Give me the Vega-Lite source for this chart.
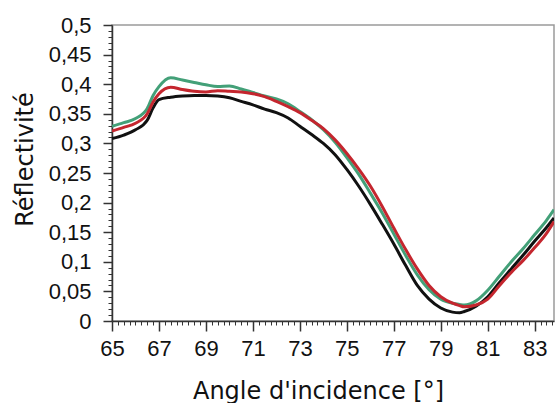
{
  "$schema": "https://vega.github.io/schema/vega-lite/v6.json",
  "width": 442,
  "height": 296,
  "autosize": {"type": "none"},
  "padding": {"left": 112, "top": 25, "right": 1, "bottom": 82},
  "background": "white",
  "config": {"view": {"stroke": "#9a9a9a", "strokeWidth": 1.5}},
  "data": {"values": [
    {"a": 65.0, "r": 0.329, "s": "vert"}, {"a": 65.5, "r": 0.335, "s": "vert"}, {"a": 66.0, "r": 0.342, "s": "vert"}, {"a": 66.5, "r": 0.359, "s": "vert"}, {"a": 66.75, "r": 0.381, "s": "vert"}, {"a": 67.0, "r": 0.396, "s": "vert"}, {"a": 67.5, "r": 0.411, "s": "vert"}, {"a": 68.0, "r": 0.407, "s": "vert"}, {"a": 68.5, "r": 0.403, "s": "vert"}, {"a": 69.0, "r": 0.399, "s": "vert"}, {"a": 69.5, "r": 0.396, "s": "vert"}, {"a": 70.0, "r": 0.397, "s": "vert"}, {"a": 70.5, "r": 0.392, "s": "vert"}, {"a": 71.0, "r": 0.386, "s": "vert"}, {"a": 71.5, "r": 0.380, "s": "vert"}, {"a": 72.0, "r": 0.375, "s": "vert"}, {"a": 72.5, "r": 0.367, "s": "vert"}, {"a": 73.0, "r": 0.354, "s": "vert"}, {"a": 73.5, "r": 0.340, "s": "vert"}, {"a": 74.0, "r": 0.323, "s": "vert"}, {"a": 74.5, "r": 0.302, "s": "vert"}, {"a": 75.0, "r": 0.276, "s": "vert"}, {"a": 75.5, "r": 0.248, "s": "vert"}, {"a": 76.0, "r": 0.216, "s": "vert"}, {"a": 76.5, "r": 0.183, "s": "vert"}, {"a": 77.0, "r": 0.147, "s": "vert"}, {"a": 77.5, "r": 0.111, "s": "vert"}, {"a": 78.0, "r": 0.078, "s": "vert"}, {"a": 78.5, "r": 0.053, "s": "vert"}, {"a": 79.0, "r": 0.037, "s": "vert"}, {"a": 79.5, "r": 0.030, "s": "vert"}, {"a": 79.8, "r": 0.028, "s": "vert"}, {"a": 80.0, "r": 0.027, "s": "vert"}, {"a": 80.5, "r": 0.034, "s": "vert"}, {"a": 81.0, "r": 0.052, "s": "vert"}, {"a": 81.5, "r": 0.076, "s": "vert"}, {"a": 82.0, "r": 0.100, "s": "vert"}, {"a": 82.5, "r": 0.122, "s": "vert"}, {"a": 83.0, "r": 0.146, "s": "vert"}, {"a": 83.5, "r": 0.170, "s": "vert"}, {"a": 83.82, "r": 0.188, "s": "vert"},
    {"a": 65.0, "r": 0.308, "s": "noir"}, {"a": 65.5, "r": 0.314, "s": "noir"}, {"a": 66.0, "r": 0.323, "s": "noir"}, {"a": 66.5, "r": 0.339, "s": "noir"}, {"a": 66.75, "r": 0.360, "s": "noir"}, {"a": 67.0, "r": 0.374, "s": "noir"}, {"a": 67.5, "r": 0.378, "s": "noir"}, {"a": 68.0, "r": 0.380, "s": "noir"}, {"a": 68.5, "r": 0.381, "s": "noir"}, {"a": 69.0, "r": 0.381, "s": "noir"}, {"a": 69.5, "r": 0.380, "s": "noir"}, {"a": 70.0, "r": 0.377, "s": "noir"}, {"a": 70.5, "r": 0.371, "s": "noir"}, {"a": 71.0, "r": 0.365, "s": "noir"}, {"a": 71.5, "r": 0.358, "s": "noir"}, {"a": 72.0, "r": 0.352, "s": "noir"}, {"a": 72.5, "r": 0.343, "s": "noir"}, {"a": 73.0, "r": 0.329, "s": "noir"}, {"a": 73.5, "r": 0.315, "s": "noir"}, {"a": 74.0, "r": 0.300, "s": "noir"}, {"a": 74.5, "r": 0.281, "s": "noir"}, {"a": 75.0, "r": 0.256, "s": "noir"}, {"a": 75.5, "r": 0.228, "s": "noir"}, {"a": 76.0, "r": 0.197, "s": "noir"}, {"a": 76.5, "r": 0.164, "s": "noir"}, {"a": 77.0, "r": 0.130, "s": "noir"}, {"a": 77.5, "r": 0.094, "s": "noir"}, {"a": 78.0, "r": 0.060, "s": "noir"}, {"a": 78.5, "r": 0.037, "s": "noir"}, {"a": 79.0, "r": 0.022, "s": "noir"}, {"a": 79.5, "r": 0.015, "s": "noir"}, {"a": 79.8, "r": 0.014, "s": "noir"}, {"a": 80.0, "r": 0.016, "s": "noir"}, {"a": 80.5, "r": 0.025, "s": "noir"}, {"a": 81.0, "r": 0.041, "s": "noir"}, {"a": 81.5, "r": 0.065, "s": "noir"}, {"a": 82.0, "r": 0.088, "s": "noir"}, {"a": 82.5, "r": 0.111, "s": "noir"}, {"a": 83.0, "r": 0.135, "s": "noir"}, {"a": 83.5, "r": 0.158, "s": "noir"}, {"a": 83.82, "r": 0.174, "s": "noir"},
    {"a": 65.0, "r": 0.321, "s": "rouge"}, {"a": 65.5, "r": 0.327, "s": "rouge"}, {"a": 66.0, "r": 0.334, "s": "rouge"}, {"a": 66.5, "r": 0.350, "s": "rouge"}, {"a": 66.75, "r": 0.370, "s": "rouge"}, {"a": 67.0, "r": 0.384, "s": "rouge"}, {"a": 67.5, "r": 0.395, "s": "rouge"}, {"a": 68.0, "r": 0.391, "s": "rouge"}, {"a": 68.5, "r": 0.388, "s": "rouge"}, {"a": 69.0, "r": 0.387, "s": "rouge"}, {"a": 69.5, "r": 0.389, "s": "rouge"}, {"a": 70.0, "r": 0.388, "s": "rouge"}, {"a": 70.5, "r": 0.387, "s": "rouge"}, {"a": 71.0, "r": 0.384, "s": "rouge"}, {"a": 71.5, "r": 0.379, "s": "rouge"}, {"a": 72.0, "r": 0.371, "s": "rouge"}, {"a": 72.5, "r": 0.362, "s": "rouge"}, {"a": 73.0, "r": 0.352, "s": "rouge"}, {"a": 73.5, "r": 0.339, "s": "rouge"}, {"a": 74.0, "r": 0.325, "s": "rouge"}, {"a": 74.5, "r": 0.306, "s": "rouge"}, {"a": 75.0, "r": 0.283, "s": "rouge"}, {"a": 75.5, "r": 0.257, "s": "rouge"}, {"a": 76.0, "r": 0.228, "s": "rouge"}, {"a": 76.5, "r": 0.194, "s": "rouge"}, {"a": 77.0, "r": 0.157, "s": "rouge"}, {"a": 77.5, "r": 0.121, "s": "rouge"}, {"a": 78.0, "r": 0.088, "s": "rouge"}, {"a": 78.5, "r": 0.060, "s": "rouge"}, {"a": 79.0, "r": 0.041, "s": "rouge"}, {"a": 79.5, "r": 0.030, "s": "rouge"}, {"a": 79.8, "r": 0.026, "s": "rouge"}, {"a": 80.0, "r": 0.024, "s": "rouge"}, {"a": 80.5, "r": 0.027, "s": "rouge"}, {"a": 81.0, "r": 0.037, "s": "rouge"}, {"a": 81.5, "r": 0.060, "s": "rouge"}, {"a": 82.0, "r": 0.082, "s": "rouge"}, {"a": 82.5, "r": 0.102, "s": "rouge"}, {"a": 83.0, "r": 0.124, "s": "rouge"}, {"a": 83.5, "r": 0.148, "s": "rouge"}, {"a": 83.82, "r": 0.168, "s": "rouge"}
  ]},
  "mark": {"type": "line", "strokeWidth": 3, "interpolate": "monotone", "clip": true},
  "encoding": {
    "x": {"field": "a", "type": "quantitative",
      "scale": {"domain": [65, 83.82], "nice": false, "zero": false},
      "axis": {"orient": "bottom",
        "values": [65, 65.25, 65.5, 65.75, 66, 66.25, 66.5, 66.75, 67, 67.25, 67.5, 67.75, 68, 68.25, 68.5, 68.75, 69, 69.25, 69.5, 69.75, 70, 70.25, 70.5, 70.75, 71, 71.25, 71.5, 71.75, 72, 72.25, 72.5, 72.75, 73, 73.25, 73.5, 73.75, 74, 74.25, 74.5, 74.75, 75, 75.25, 75.5, 75.75, 76, 76.25, 76.5, 76.75, 77, 77.25, 77.5, 77.75, 78, 78.25, 78.5, 78.75, 79, 79.25, 79.5, 79.75, 80, 80.25, 80.5, 80.75, 81, 81.25, 81.5, 81.75, 82, 82.25, 82.5, 82.75, 83, 83.25, 83.5, 83.75],
        "grid": false, "tickSize": 10, "tickColor": "#333",
        "tickWidth": {"condition": {"test": "abs(datum.value % 2 - 1) < 0.01", "value": 1.5}, "value": 1},
        "tickDash": {"condition": {"test": "abs(datum.value % 2 - 1) >= 0.01", "value": [4, 100]}, "value": []},
        "domainColor": "#333", "domainWidth": 1.5,
        "labelExpr": "abs(datum.value % 2 - 1) < 0.01 ? format(datum.value, 'd') : ''",
        "labelOverlap": false, "labelFlush": false, "labelBound": false,
        "labelFont": "Liberation Sans", "labelFontSize": 22, "labelColor": "#111", "labelPadding": 7,
        "title": "Angle d'incidence [°]", "titleFont": "DejaVu Sans", "titleFontSize": 24, "titleFontWeight": "normal", "titleColor": "#111",
        "titleX": 206, "titleY": 77, "titleBaseline": "alphabetic", "titleAlign": "center"}},
    "y": {"field": "r", "type": "quantitative",
      "scale": {"domain": [0, 0.5], "nice": false},
      "axis": {"orient": "left",
        "values": [0, 0.01, 0.02, 0.03, 0.04, 0.05, 0.06, 0.07, 0.08, 0.09, 0.1, 0.11, 0.12, 0.13, 0.14, 0.15, 0.16, 0.17, 0.18, 0.19, 0.2, 0.21, 0.22, 0.23, 0.24, 0.25, 0.26, 0.27, 0.28, 0.29, 0.3, 0.31, 0.32, 0.33, 0.34, 0.35, 0.36, 0.37, 0.38, 0.39, 0.4, 0.41, 0.42, 0.43, 0.44, 0.45, 0.46, 0.47, 0.48, 0.49, 0.5],
        "grid": false, "tickSize": 9, "tickColor": "#333",
        "tickWidth": {"condition": {"test": "round(datum.value * 100) % 5 == 0", "value": 1.5}, "value": 1},
        "tickDash": {"condition": {"test": "round(datum.value * 100) % 5 != 0", "value": [4, 100]}, "value": []},
        "domainColor": "#333", "domainWidth": 1.5,
        "labelExpr": "round(datum.value * 100) % 5 == 0 ? replace(format(datum.value, '.2~f'), '.', ',') : ''",
        "labelOverlap": false, "labelFlush": false, "labelBound": false,
        "labelFont": "Liberation Sans", "labelFontSize": 22, "labelColor": "#111", "labelPadding": 12,
        "title": "Réflectivité", "titleFont": "DejaVu Sans", "titleFontSize": 24, "titleFontWeight": "normal", "titleColor": "#111",
        "titleX": -80, "titleY": 134, "titleAngle": -90, "titleBaseline": "alphabetic", "titleAlign": "center"}},
    "color": {"field": "s", "type": "nominal", "legend": null,
      "scale": {"domain": ["noir", "rouge", "vert"], "range": ["#111111", "#c4262e", "#43a078"]}}
  }
}
